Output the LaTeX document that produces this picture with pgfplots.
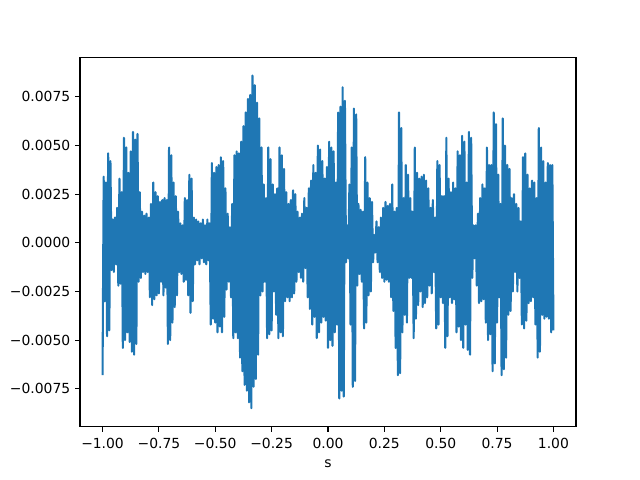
\documentclass[border=0pt]{standalone}
\usepackage{fontspec}
\setmainfont{DejaVu Sans}
\usepackage{pgfplots}
\pgfplotsset{compat=1.18}
\usepackage{pgfplotstable}
\definecolor{mplblue}{HTML}{1F77B4}
\pgfplotstableread{
x y
-1.000 -6.8e-3
-0.995 3.4e-3
-0.990 -3.0e-3
-0.985 3.1e-3
-0.980 -4.8e-3
-0.975 4.6e-3
-0.970 -4.5e-3
-0.965 4.2e-3
-0.960 -1.4e-3
-0.955 1.2e-3
-0.950 -1.5e-3
-0.945 1.3e-3
-0.940 -1.1e-3
-0.935 1.8e-3
-0.930 -2.2e-3
-0.925 3.3e-3
-0.920 -2.1e-3
-0.915 2.6e-3
-0.910 -5.4e-3
-0.905 5.4e-3
-0.900 -5.0e-3
-0.895 4.9e-3
-0.890 -4.6e-3
-0.885 3.6e-3
-0.880 -5.1e-3
-0.875 4.7e-3
-0.870 -5.6e-3
-0.865 5.7e-3
-0.860 -5.75e-3
-0.855 5.3e-3
-0.850 -5.2e-3
-0.845 5.6e-3
-0.840 -2.0e-3
-0.835 2.6e-3
-0.830 -1.8e-3
-0.825 1.6e-3
-0.820 -1.5e-3
-0.815 1.4e-3
-0.810 -1.6e-3
-0.805 1.5e-3
-0.800 -1.5e-3
-0.795 1.3e-3
-0.790 -2.8e-3
-0.785 2.0e-3
-0.780 -3.2e-3
-0.775 3.1e-3
-0.770 -2.9e-3
-0.765 2.6e-3
-0.760 -2.7e-3
-0.755 2.4e-3
-0.750 -2.6e-3
-0.745 2.1e-3
-0.740 -2.0e-3
-0.735 2.2e-3
-0.730 -2.7e-3
-0.725 2.3e-3
-0.720 -2.3e-3
-0.715 2.2e-3
-0.710 -5.2e-3
-0.705 4.9e-3
-0.700 -5.0e-3
-0.695 4.5e-3
-0.690 -4.1e-3
-0.685 3.1e-3
-0.680 -3.3e-3
-0.675 2.4e-3
-0.670 -2.7e-3
-0.665 1.6e-3
-0.660 -1.5e-3
-0.655 1.0e-3
-0.650 -1.6e-3
-0.645 0.9e-3
-0.640 -2.0e-3
-0.635 2.3e-3
-0.630 -1.9e-3
-0.625 2.2e-3
-0.620 -2.7e-3
-0.615 3.5e-3
-0.610 -3.6e-3
-0.605 3.3e-3
-0.600 -3.0e-3
-0.595 1.3e-3
-0.590 -1.1e-3
-0.585 1.2e-3
-0.580 -0.9e-3
-0.575 1.1e-3
-0.570 -1.1e-3
-0.565 1.0e-3
-0.560 -0.8e-3
-0.555 1.2e-3
-0.550 -1.0e-3
-0.545 0.9e-3
-0.540 -1.1e-3
-0.535 1.2e-3
-0.530 -0.9e-3
-0.525 1.0e-3
-0.520 -4.2e-3
-0.515 4.1e-3
-0.510 -3.9e-3
-0.505 3.6e-3
-0.500 -4.1e-3
-0.495 3.9e-3
-0.490 -4.6e-3
-0.485 4.0e-3
-0.480 -4.3e-3
-0.475 4.4e-3
-0.470 -4.6e-3
-0.465 4.2e-3
-0.460 -3.8e-3
-0.455 2.8e-3
-0.450 -2.4e-3
-0.445 1.5e-3
-0.440 -2.0e-3
-0.435 0.8e-3
-0.430 -2.8e-3
-0.425 2.0e-3
-0.420 -4.9e-3
-0.415 4.5e-3
-0.410 -4.6e-3
-0.405 4.7e-3
-0.400 -4.9e-3
-0.395 4.6e-3
-0.390 -5.9e-3
-0.385 5.2e-3
-0.380 -6.6e-3
-0.375 6.0e-3
-0.370 -7.3e-3
-0.365 6.7e-3
-0.360 -7.6e-3
-0.355 7.4e-3
-0.350 -8.2e-3
-0.345 7.6e-3
-0.340 -8.5e-3
-0.335 8.6e-3
-0.330 -7.4e-3
-0.325 8.1e-3
-0.320 -7.0e-3
-0.315 7.2e-3
-0.310 -5.75e-3
-0.305 6.4e-3
-0.300 -2.7e-3
-0.295 4.9e-3
-0.290 -2.5e-3
-0.285 3.0e-3
-0.280 -2.0e-3
-0.275 2.3e-3
-0.270 -4.9e-3
-0.265 4.9e-3
-0.260 -4.7e-3
-0.255 4.3e-3
-0.250 -4.5e-3
-0.245 3.0e-3
-0.240 -2.5e-3
-0.235 2.5e-3
-0.230 -3.7e-3
-0.225 2.8e-3
-0.220 -4.9e-3
-0.215 4.9e-3
-0.210 -4.6e-3
-0.205 4.5e-3
-0.200 -4.8e-3
-0.195 3.8e-3
-0.190 -3.0e-3
-0.185 2.6e-3
-0.180 -2.8e-3
-0.175 2.0e-3
-0.170 -3.0e-3
-0.165 2.2e-3
-0.160 -2.8e-3
-0.155 2.7e-3
-0.150 -2.6e-3
-0.145 2.5e-3
-0.140 -2.0e-3
-0.135 1.6e-3
-0.130 -1.5e-3
-0.125 1.3e-3
-0.120 -1.8e-3
-0.115 1.5e-3
-0.110 -2.0e-3
-0.105 2.3e-3
-0.100 -1.3e-3
-0.095 1.8e-3
-0.090 -2.8e-3
-0.085 2.8e-3
-0.080 -3.4e-3
-0.075 3.2e-3
-0.070 -4.2e-3
-0.065 4.0e-3
-0.060 -3.8e-3
-0.055 3.6e-3
-0.050 -4.9e-3
-0.045 5.0e-3
-0.040 -4.6e-3
-0.035 4.8e-3
-0.030 -4.1e-3
-0.025 4.2e-3
-0.020 -3.8e-3
-0.015 3.3e-3
-0.010 -4.0e-3
-0.005 3.9e-3
0.000 -5.4e-3
0.005 5.2e-3
0.010 -5.0e-3
0.015 4.9e-3
0.020 -5.3e-3
0.025 4.7e-3
0.030 -4.6e-3
0.035 3.1e-3
0.040 -4.2e-3
0.045 6.7e-3
0.050 -8.0e-3
0.055 7.0e-3
0.060 -7.6e-3
0.065 8.0e-3
0.070 -7.9e-3
0.075 7.3e-3
0.080 -1.0e-3
0.085 0.9e-3
0.090 -0.8e-3
0.095 3.0e-3
0.100 -4.2e-3
0.105 4.9e-3
0.110 -7.4e-3
0.115 6.9e-3
0.120 -7.1e-3
0.125 6.6e-3
0.130 -2.2e-3
0.135 2.0e-3
0.140 -1.6e-3
0.145 1.7e-3
0.150 -2.0e-3
0.155 1.6e-3
0.160 -4.4e-3
0.165 4.4e-3
0.170 -4.1e-3
0.175 3.1e-3
0.180 -2.7e-3
0.185 2.3e-3
0.190 -2.5e-3
0.195 2.1e-3
0.200 -1.0e-3
0.205 0.4e-3
0.210 -0.5e-3
0.215 1.1e-3
0.220 -1.0e-3
0.225 0.8e-3
0.230 -1.5e-3
0.235 1.3e-3
0.240 -1.8e-3
0.245 1.8e-3
0.250 -2.0e-3
0.255 2.1e-3
0.260 -1.9e-3
0.265 1.9e-3
0.270 -2.0e-3
0.275 2.0e-3
0.280 -2.8e-3
0.285 3.0e-3
0.290 -3.5e-3
0.295 1.6e-3
0.300 -5.4e-3
0.305 1.8e-3
0.310 -6.8e-3
0.315 6.7e-3
0.320 -6.7e-3
0.325 5.9e-3
0.330 -4.6e-3
0.335 2.3e-3
0.340 -3.7e-3
0.345 4.0e-3
0.350 -4.1e-3
0.355 3.5e-3
0.360 -1.8e-3
0.365 2.3e-3
0.370 -1.8e-3
0.375 1.6e-3
0.380 -4.9e-3
0.385 4.9e-3
0.390 -3.9e-3
0.395 3.6e-3
0.400 -3.2e-3
0.405 3.3e-3
0.410 -2.5e-3
0.415 3.4e-3
0.420 -3.3e-3
0.425 3.5e-3
0.430 -3.1e-3
0.435 3.2e-3
0.440 -2.8e-3
0.445 2.8e-3
0.450 -2.2e-3
0.455 1.8e-3
0.460 -2.6e-3
0.465 2.2e-3
0.470 -1.5e-3
0.475 1.3e-3
0.480 -4.4e-3
0.485 4.2e-3
0.490 -4.2e-3
0.495 4.0e-3
0.500 -2.8e-3
0.505 2.4e-3
0.510 -3.1e-3
0.515 2.4e-3
0.520 -5.4e-3
0.525 5.4e-3
0.530 -4.8e-3
0.535 3.3e-3
0.540 -2.8e-3
0.545 2.6e-3
0.550 -3.1e-3
0.555 3.1e-3
0.560 -2.9e-3
0.565 2.8e-3
0.570 -4.6e-3
0.575 4.7e-3
0.580 -4.3e-3
0.585 4.5e-3
0.590 -5.0e-3
0.595 5.5e-3
0.600 -5.4e-3
0.605 5.2e-3
0.610 -4.2e-3
0.615 3.1e-3
0.620 -5.5e-3
0.625 5.7e-3
0.630 -5.75e-3
0.635 5.4e-3
0.640 -1.8e-3
0.645 0.9e-3
0.650 -0.8e-3
0.655 0.9e-3
0.660 -2.2e-3
0.665 1.5e-3
0.670 -3.1e-3
0.675 2.3e-3
0.680 -3.0e-3
0.685 3.0e-3
0.690 -2.9e-3
0.695 2.8e-3
0.700 -4.1e-3
0.705 4.9e-3
0.710 -5.0e-3
0.715 4.0e-3
0.720 -4.7e-3
0.725 4.0e-3
0.730 -6.6e-3
0.735 6.7e-3
0.740 -6.2e-3
0.745 6.1e-3
0.750 -4.1e-3
0.755 3.5e-3
0.760 -2.8e-3
0.765 2.0e-3
0.770 -6.8e-3
0.775 6.4e-3
0.780 -6.5e-3
0.785 5.0e-3
0.790 -5.9e-3
0.795 4.0e-3
0.800 -3.7e-3
0.805 3.8e-3
0.810 -3.5e-3
0.815 2.3e-3
0.820 -2.5e-3
0.825 2.5e-3
0.830 -1.5e-3
0.835 2.0e-3
0.840 -2.5e-3
0.845 1.8e-3
0.850 -1.8e-3
0.855 1.1e-3
0.860 -4.2e-3
0.865 4.4e-3
0.870 -4.4e-3
0.875 4.6e-3
0.880 -4.0e-3
0.885 3.5e-3
0.890 -3.1e-3
0.895 2.8e-3
0.900 -3.0e-3
0.905 3.2e-3
0.910 -2.8e-3
0.915 3.1e-3
0.920 -4.2e-3
0.925 2.3e-3
0.930 -5.9e-3
0.935 5.9e-3
0.940 -5.6e-3
0.945 4.9e-3
0.950 -3.7e-3
0.955 4.2e-3
0.960 -3.9e-3
0.965 3.1e-3
0.970 -3.8e-3
0.975 4.1e-3
0.980 -3.9e-3
0.985 4.0e-3
0.990 -4.6e-3
0.995 4.0e-3
1.000 -4.5e-3
}\signal
\begin{document}
\begin{tikzpicture}
\begin{axis}[
  name=main,
  scale only axis,
  width=357.1pt, height=265.7pt,
  xmin=-1.1, xmax=1.1,
  ymin=-0.00945, ymax=0.00952,
  axis line style={line width=0.8pt},
  tick style={line width=0.8pt, black},
  tick align=outside,
  major tick length=3.5pt,
  xtick={-1,-0.75,-0.5,-0.25,0,0.25,0.5,0.75,1},
  xticklabels={−1.00,−0.75,−0.50,−0.25,0.00,0.25,0.50,0.75,1.00},
  ytick={-0.0075,-0.005,-0.0025,0,0.0025,0.005,0.0075},
  yticklabels={−0.0075,−0.0050,−0.0025,0.0000,0.0025,0.0050,0.0075},
  scaled y ticks=false,
  xtick pos=bottom, ytick pos=left,
  ticklabel style={font=\fontsize{10}{12}\selectfont},
  xticklabel style={yshift=-1pt},
  xlabel={s},
  xlabel style={font=\fontsize{10}{12}\selectfont, yshift=-1.6pt},
]
\addplot[mplblue, line width=1.5pt, line join=round, mark=none] table[x=x,y=y] {\signal};
\end{axis}
\pgfresetboundingbox
\path (main.south west) ++(-57.6pt,-38.2pt) rectangle ([xshift=46.08pt,yshift=41.5pt]main.north east);
\end{tikzpicture}
\end{document}
